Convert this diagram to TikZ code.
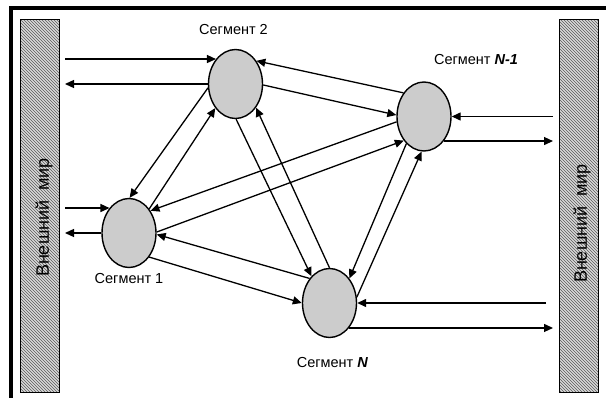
\documentclass[tikz,border=0pt]{standalone}
\usepackage{fontspec}
\setmainfont{Liberation Sans}
\usetikzlibrary{arrows.meta,positioning,shapes.geometric,patterns}

\begin{document}
\begin{tikzpicture}[x=1pt, y=-1pt,
  seg/.style={draw, ellipse, line width=1.4pt, fill=black!20,
    minimum width=54pt, minimum height=69pt, inner sep=0pt},
  world/.style={draw, line width=1pt, minimum width=39pt, minimum height=373pt,
    preaction={fill=black!15}, pattern=north west lines, pattern color=black!65,
    outer xsep=6pt},
  lbl/.style={font=\fontsize{14.5}{16}\selectfont, inner sep=0pt},
  wtext/.style={font=\fontsize{18}{20}\selectfont, rotate=90, inner sep=0pt},
  arr/.style={-{Triangle[length=9pt,width=8pt]}, line width=1.3pt},
  node distance=14pt
]
\useasboundingbox (0,0) rectangle (606,398);
% outer frame, only its left and top sides fall on the page
\draw[line width=4pt] (10.5,402) -- (10.5,8.5) -- (610,8.5);

\node[world] (wl) at (39.5,206.5) {};
\node[world] (wr) at (578.5,206) {};
\node[wtext] (tl) at (44,217.5) {Внешний\ \ мир};
\node[wtext] (tr) at (582,223.5) {Внешний\ \ мир};

\node[seg] (s2) at (235.5,84) {};
\node[seg] (s1) at (129,233) {};
\node[seg] (sN1) at (424,116.5) {};
\node[seg] (sN) at (329.5,303) {};

\node[lbl, above=14pt of s2, xshift=-2pt] (l2) {Сегмент 2};
\node[lbl, below=5pt of s1] (l1) {Сегмент 1};
\node[lbl, above=16pt of sN1, xshift=52pt] (lN1) {Сегмент \textbf{\textit{N-1}}};
\node[lbl, below=19pt of sN, xshift=3pt] (lN) {Сегмент \textbf{\textit{N}}};

% links with the outside world
\draw[arr] (s2.128 -| wl.east) -- (s2.128);
\draw[arr] (s2.west) -- (s2.west -| wl.east);
\draw[arr] (s1.128 -| wl.east) -- (s1.128);
\draw[arr] (s1.west) -- (s1.west -| wl.east);
\draw[arr] (sN1.east -| wr.west) -- (sN1.east);
\draw[arr] (sN1.309) -- (sN1.309 -| wr.west);
\draw[arr, shorten <=7pt] (sN.east -| wr.west) -- (sN.east);
\draw[arr] (sN.308) -- (sN.308 -| wr.west);

% links between segments
\draw[arr] (sN1.131) -- (s2.48);
\draw[arr] (s2.358) -- (sN1.177);
\draw[arr] (s2.188) -- (s1.89);
\draw[arr] (s1.50) -- (s2.230);
\draw[arr] (s2.271) -- (sN.124);
\draw[arr] (sN.90) -- (s2.311);
\draw[arr] (sN1.191) -- (s1.46);
\draw[arr] (s1.2) -- (sN1.230);
\draw[arr] (sN1.237) -- (sN.51);
\draw[arr] (sN.12) -- (sN1.266);
\draw[arr] (sN.129) -- (s1.357);
\draw[arr] (s1.310) -- (sN.180);
\end{tikzpicture}
\end{document}
